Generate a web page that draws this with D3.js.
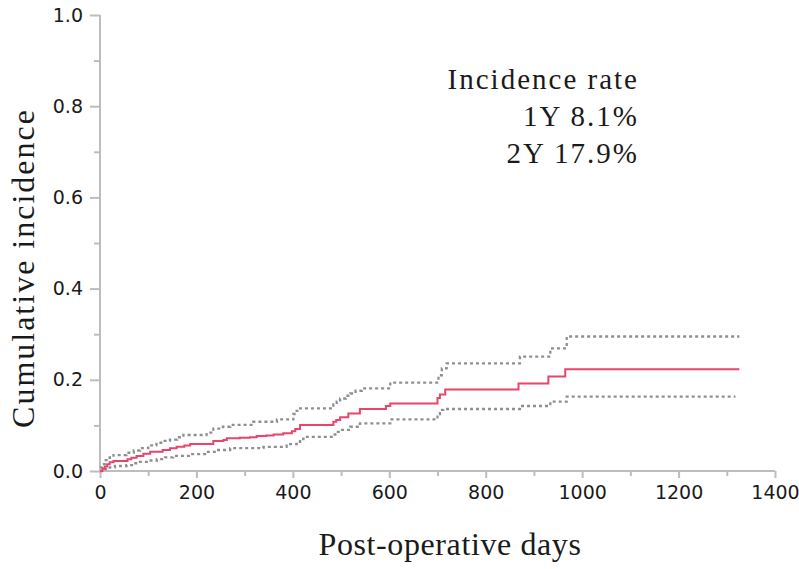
<!DOCTYPE html>
<html>
<head>
<meta charset="utf-8">
<script src="https://cdn.jsdelivr.net/npm/d3@7"></script>
<style>
  html, body { margin: 0; padding: 0; background: #fff; }
  svg { display: block; }
</style>
</head>
<body>
<svg id="chart" width="799" height="569"></svg>
<script>
// Cumulative incidence estimate (step function): [day, value]
const estimate = [[0,0],[5,0.005],[10,0.01],[15,0.015],[20,0.019],[28,0.022],[57,0.026],[65,0.029],[76,0.033],[90,0.038],[104,0.042],[130,0.046],[145,0.05],[159,0.053],[175,0.056],[187,0.059],[235,0.066],[256,0.068],[263,0.072],[290,0.073],[311,0.074],[325,0.077],[345,0.078],[360,0.080],[380,0.083],[398,0.087],[405,0.092],[415,0.101],[484,0.108],[490,0.112],[498,0.118],[515,0.126],[539,0.136],[593,0.1425],[602,0.148],[700,0.16],[705,0.168],[716,0.179],[868,0.192],[930,0.207],[965,0.223],[1326,0.223]];
// Upper 95% confidence band
const upperCI = [[0,0.008],[5,0.015],[12,0.024],[20,0.030],[28,0.035],[55,0.040],[70,0.045],[83,0.05],[100,0.056],[117,0.062],[130,0.066],[145,0.069],[160,0.074],[173,0.079],[221,0.084],[235,0.093],[255,0.097],[270,0.101],[318,0.108],[367,0.113],[401,0.125],[408,0.132],[415,0.1375],[484,0.146],[491,0.152],[498,0.159],[510,0.165],[519,0.170],[530,0.176],[543,0.181],[602,0.194],[702,0.21],[709,0.225],[719,0.236],[871,0.251],[934,0.269],[968,0.295],[1326,0.295]];
// Lower 95% confidence band
const lowerCI = [[0,0],[10,0.004],[20,0.008],[31,0.011],[55,0.013],[70,0.017],[83,0.020],[100,0.023],[118,0.026],[135,0.030],[152,0.033],[187,0.037],[218,0.042],[245,0.046],[270,0.050],[339,0.053],[387,0.059],[408,0.064],[415,0.070],[422,0.075],[484,0.080],[491,0.086],[498,0.090],[519,0.097],[539,0.1045],[602,0.113],[700,0.125],[705,0.134],[712,0.136],[871,0.1425],[934,0.152],[968,0.163],[1318,0.163]];

const xTicks = [0, 200, 400, 600, 800, 1000, 1200, 1400];
const xMinorTicks = [100, 300, 500, 700, 900, 1100, 1300];
const yTicks = [0, 0.2, 0.4, 0.6, 0.8, 1.0];
const yMinorTicks = [0.1, 0.3, 0.5, 0.7, 0.9];
const annotationLines = ["Incidence rate", "1Y 8.1%", "2Y 17.9%"];
const xTitle = "Post-operative days";
const yTitle = "Cumulative incidence";

const svg = d3.select("#chart");
const x = d3.scaleLinear().domain([0, 1400]).range([100, 775]);
const y = d3.scaleLinear().domain([0, 1]).range([471, 15]);

const axisColor = "#bdbdbd";
const tickFont = "'DejaVu Sans', Verdana, sans-serif";
const serif = "'Liberation Serif', 'Times New Roman', serif";

// X axis
const gx = svg.append("g").attr("transform", `translate(0,${y(0)})`);
gx.call(d3.axisBottom(x).tickValues(xTicks).tickSize(7).tickPadding(8).tickFormat(d3.format("d")));
gx.append("g").call(d3.axisBottom(x).tickValues(xMinorTicks).tickSize(5).tickFormat(""))
  .select(".domain").remove();
gx.selectAll(".domain").attr("d", `M${x(0)},0H${x(1400)}`);

// Y axis
const gy = svg.append("g").attr("transform", `translate(${x(0)},0)`);
gy.call(d3.axisLeft(y).tickValues(yTicks).tickSize(10).tickPadding(7).tickFormat(d3.format(".1f")));
gy.append("g").call(d3.axisLeft(y).tickValues(yMinorTicks).tickSize(6).tickFormat(""))
  .select(".domain").remove();
gy.selectAll(".domain").attr("d", `M0,${y(1)}V${y(0)}`);

svg.selectAll(".domain, .tick line").attr("stroke", axisColor).attr("stroke-width", 2);
svg.selectAll(".tick text").attr("fill", "#1a1a1a").style("font-family", tickFont).style("font-size", "19px");

// Lines
const line = d3.line().x(d => x(d[0])).y(d => y(d[1])).curve(d3.curveStepAfter);

svg.append("path").datum(upperCI).attr("d", line)
  .attr("fill", "none").attr("stroke", "#8f8f8f").attr("stroke-width", 2.3).attr("stroke-dasharray", "3,3");
svg.append("path").datum(lowerCI).attr("d", line)
  .attr("fill", "none").attr("stroke", "#8f8f8f").attr("stroke-width", 2.3).attr("stroke-dasharray", "3,3");
svg.append("path").datum(estimate).attr("d", line)
  .attr("fill", "none").attr("stroke", "#e8456a").attr("stroke-width", 2);

// Annotation
const ann = svg.append("text").attr("text-anchor", "end")
  .style("font-family", serif).style("font-size", "29px").style("letter-spacing", "2px").attr("fill", "#1a1a1a");
annotationLines.forEach((t, i) => {
  ann.append("tspan").attr("x", 639).attr("y", 89 + i * 37).text(t);
});

// Axis titles
svg.append("text").attr("x", 450).attr("y", 555).attr("text-anchor", "middle")
  .style("font-family", serif).style("font-size", "32px").style("letter-spacing", "0.6px").attr("fill", "#1a1a1a").text(xTitle);
svg.append("text").attr("transform", `translate(34,268) rotate(-90)`).attr("text-anchor", "middle")
  .style("font-family", serif).style("font-size", "32px").style("letter-spacing", "2px").attr("fill", "#1a1a1a").text(yTitle);
</script>
</body>
</html>
